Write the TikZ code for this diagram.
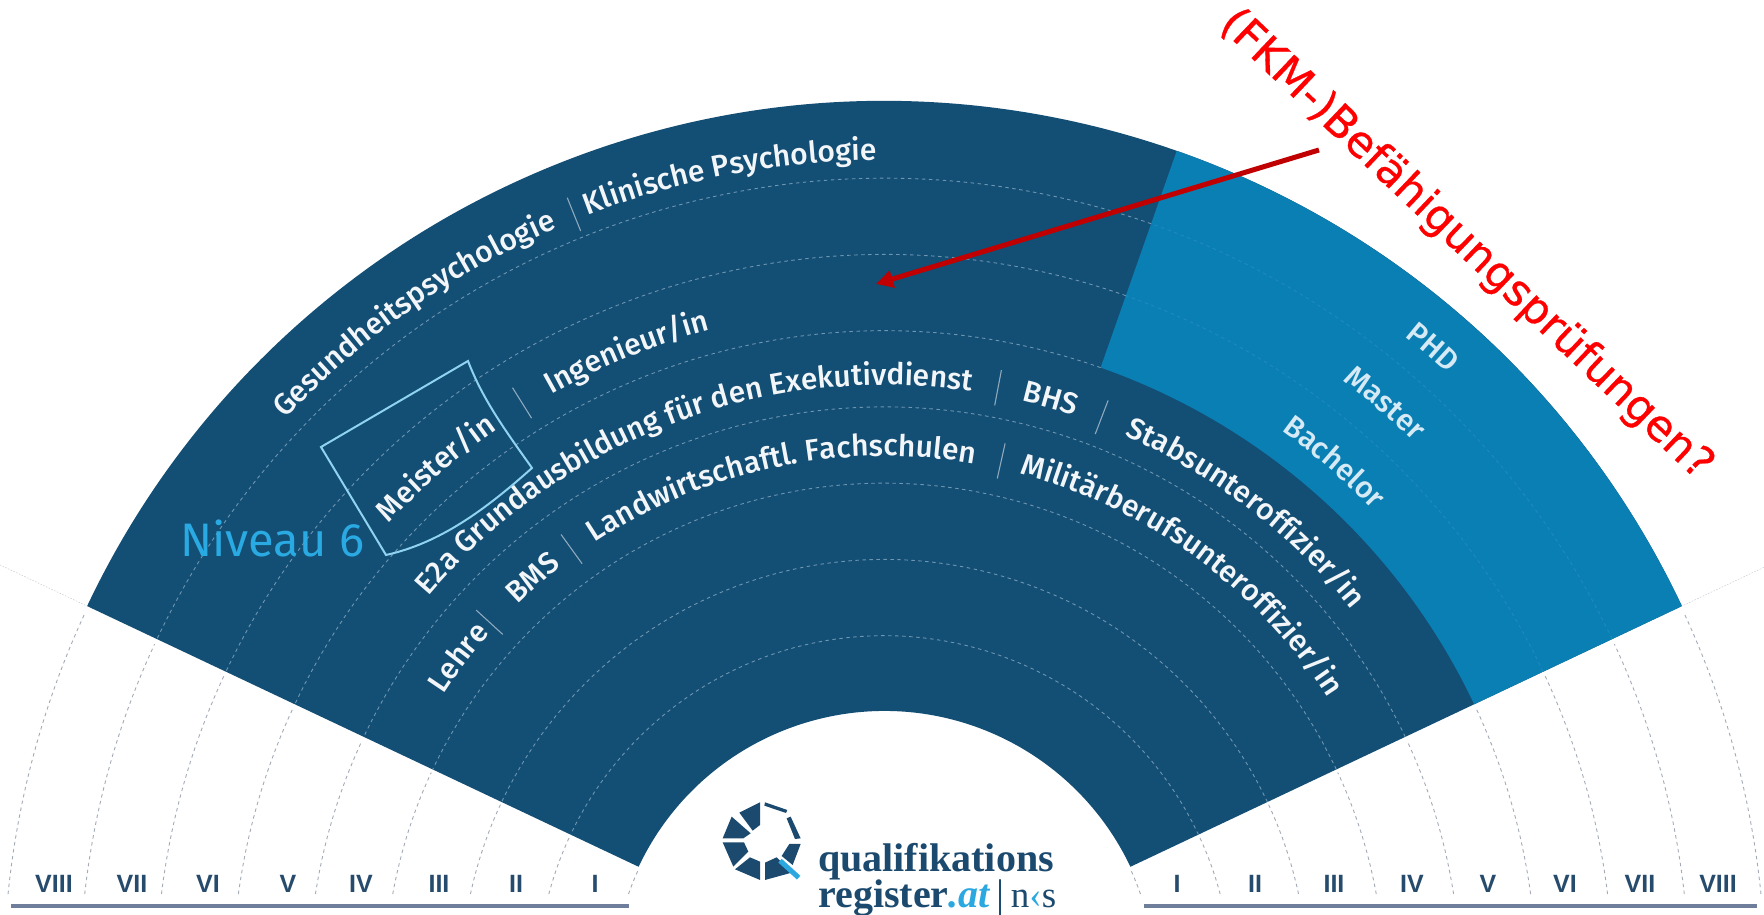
\documentclass[tikz,border=0pt]{standalone}
\usepackage{fontspec}
\usetikzlibrary{calc,decorations.text,arrows.meta}
\newfontfamily\lblfont{Fira Sans Medium}
\newfontfamily\nivfont{Fira Sans}
\newfontfamily\redfont[FakeBold=0.7]{DejaVu Sans}
\newfontfamily\romfont{Liberation Sans}
\newfontfamily\logofont{Liberation Serif}
\definecolor{dark}{HTML}{134E75}
\definecolor{light}{HTML}{0A7FB4}
\definecolor{dashin}{HTML}{6F96B0}
\definecolor{dashlt}{HTML}{1F8ABD}
\definecolor{dashout}{HTML}{A4ABB6}
\definecolor{rom}{HTML}{274B6C}
\definecolor{rulec}{HTML}{6F7F9B}
\definecolor{sepc}{HTML}{8FA9BC}
\definecolor{boxc}{HTML}{8FD3F0}
\definecolor{niv}{HTML}{2AAAE2}
\definecolor{arr}{HTML}{C00000}
\definecolor{logod}{HTML}{1C4A6E}
\definecolor{logol}{HTML}{2CA8E0}
\definecolor{lbltxt}{HTML}{F2F6F9}
\definecolor{lbllt}{HTML}{D5EAF5}
\def\lblf{\lblfont\fontsize{30}{30}\selectfont\color{lbltxt}}
\def\lblg{\lblfont\fontsize{30}{30}\selectfont\color{lbllt}}
\newcommand{\arctext}[4]{\path[decorate,decoration={text along path,text align=center,text={|\lblf|#4}}] ($(C)+(#2:#1)$) arc[start angle=#2,end angle=#3,radius=#1];}
\newcommand{\arctextl}[4]{\path[decorate,decoration={text along path,text align=center,text={|\lblg|#4}}] ($(C)+(#2:#1)$) arc[start angle=#2,end angle=#3,radius=#1];}
\newcommand{\sepline}[2]{\draw[sepc,line width=1.1pt] ($(C)+(#2:#1-18)$) -- ($(C)+(#2:#1+18)$);}
\begin{document}
\begin{tikzpicture}[x=1pt,y=1pt,
  dashring/.style={line width=0.9pt,dash pattern=on 3.5pt off 3.5pt},
  romlab/.style={rom,inner sep=0pt,anchor=base,font=\romfont\bfseries\fontsize{25}{25}\selectfont}]
\useasboundingbox (0,0) rectangle (1764,915);
\fill[white] (0,0) rectangle (1764,915);
\coordinate (C) at (884.5,-68);
\def\Ro{271}\def\St{76.25}\def\Ea{25.3}\def\Eb{154.7}\def\Ec{70.65}
% fan
\fill[dark] ($(C)+(\Ea:882)$) arc[start angle=\Ea,end angle=\Eb,radius=882] -- ($(C)+(\Eb:272)$) arc[start angle=\Eb,end angle=\Ea,radius=272] -- cycle;
\fill[light] ($(C)+(\Ea:882)$) arc[start angle=\Ea,end angle=\Ec,radius=882] -- ($(C)+(\Ec:652.25)$) arc[start angle=\Ec,end angle=\Ea,radius=652.25] -- cycle;
% rings inside fan
\foreach \k in {1,2,3,4}{
  \pgfmathsetmacro\R{\Ro+\St*\k}
  \draw[dashin,dashring] ($(C)+(\Ea:\R)$) arc[start angle=\Ea,end angle=\Eb,radius=\R];
}
\foreach \k in {5,6,7}{
  \pgfmathsetmacro\R{\Ro+\St*\k}
  \draw[dashin,dashring] ($(C)+(\Ec:\R)$) arc[start angle=\Ec,end angle=\Eb,radius=\R];
}
\foreach \k in {6,7}{
  \pgfmathsetmacro\R{\Ro+\St*\k}
  \draw[dashlt,dashring] ($(C)+(\Ea:\R)$) arc[start angle=\Ea,end angle=\Ec,radius=\R];
}
% rings outside fan
\foreach \k in {0,...,8}{
  \pgfmathsetmacro\R{\Ro+\St*\k}
  \pgfmathsetmacro\Aa{asin(89/\R)}
  \pgfmathsetmacro\Ab{180-\Aa}
  \draw[dashout,dashring] ($(C)+(\Ab:\R)$) arc[start angle=\Ab,end angle=\Eb+0.4,radius=\R];
  \draw[dashout,dashring] ($(C)+(\Aa:\R)$) arc[start angle=\Aa,end angle=\Ea-0.4,radius=\R];
}
% faint extensions of the edges
\draw[dashout!60,line width=0.5pt,dash pattern=on 1.5pt off 1.5pt] ($(C)+(\Eb:881)$) -- ($(C)+(\Eb:985)$);
\draw[dashout!60,line width=0.5pt,dash pattern=on 1.5pt off 1.5pt] ($(C)+(\Ea:881)$) -- ($(C)+(\Ea:985)$);
% labels
\arctext{823}{137.0}{113.2}{Gesundheitspsychologie}
\sepline{829}{112}
\arctext{823}{111.1}{90.6}{Klinische Psychologie}
\arctext{676}{137.4}{124.7}{Meister/in}
\sepline{684}{122}
\arctext{676}{119.6}{104.8}{Ingenieur/in}
\arctext{598}{140.0}{81.3}{E2a Grundausbildung für den Exekutivdienst}
\sepline{606}{79.2}
\arctext{598}{76.7}{71.5}{BHS}
\sepline{606}{69}
\arctext{598}{66.0}{39.0}{Stabsunteroffizier/in}
\arctext{527}{146.8}{138.5}{Lehre}
\sepline{535}{137.6}
\arctext{527}{134.2}{127.7}{BMS}
\sepline{535}{125.8}
\arctext{527}{123.6}{79.9}{Landwirtschaftl. Fachschulen}
\sepline{535}{77.4}
\arctext{527}{75.0}{32.9}{Militärberufsunteroffizier/in}
\arctextl{830}{55}{43.4}{PHD}
\arctextl{757}{55}{43.4}{Master}
\arctextl{680}{55}{43.4}{Bachelor}
% Meister box
\draw[boxc,line width=2pt,line join=miter] (321,468) -- (468,554) .. controls (483,515) and (505,485) .. (532,447) .. controls (485,405) and (440,372) .. (386,360) -- cycle;
\node[niv,inner sep=0pt,anchor=base west,font=\nivfont\fontsize{47}{47}\selectfont] (niveau) at (180,358) {Niveau 6};
% bottom rules
\draw[rulec,line width=3.5pt] (11,9) -- (629,9);
\draw[rulec,line width=3.5pt] (1144,9) -- (1757,9);
% roman numerals
\foreach \x/\t/\n in {54/VIII/a,132/VII/b,208/VI/c,288/V/d,361/IV/e,439/III/f,516/II/g,595/I/h,1177/I/i,1255/II/j,1334/III/k,1412/IV/l,1488/V/m,1565/VI/n,1640/VII/o,1718/VIII/p}{
  \node[romlab] (rom\n) at (\x,22) {\t};
}
% logo
\begin{scope}[shift={(680,145)},x=0.3333pt,y=-0.3333pt]
\fill[logod] (178,128) -- (240,97) -- (240,165) -- (218,182) -- cycle;
\fill[logod] (155,140) -- (212,190) -- (190,205) -- (128,205) -- cycle;
\fill[logod] (128,217) -- (192,217) -- (205,245) -- (160,290) -- cycle;
\fill[logod] (165,298) -- (210,262) -- (240,275) -- (240,330) -- cycle;
\fill[logod] (255,330) -- (255,278) -- (290,262) -- (335,308) -- cycle;
\fill[logod] (305,258) -- (328,222) -- (362,222) -- (338,285) -- cycle;
\fill[logod] (320,145) -- (332,140) -- (362,205) -- (345,207) -- cycle;
\fill[logod] (255,97) -- (322,120) -- (318,129) -- (253,107) -- cycle;
\draw[logol,line width=5pt] (300,272) -- (356,323);
\end{scope}
\node[logod,inner sep=0pt,anchor=base west,font=\logofont\bfseries\fontsize{40}{40}\selectfont] (logoa) at (818,43) {qualifikations};
\node[logod,inner sep=0pt,anchor=base west,font=\logofont\bfseries\fontsize{40}{40}\selectfont] (logob) at (818,7) {register\textcolor{logol}{\itshape .at}\,{\mdseries |}\,{\mdseries\fontsize{37}{37}\selectfont n\textcolor{logol}{‹}s}};
% arrow
\coordinate (arrS) at (1319,765);
\coordinate (arrE) at (876,631);
\draw[arr,line width=5pt,-{Triangle[length=17pt,width=17pt]}] (arrS) -- (arrE);
% red label
\node[red,inner sep=0pt,rotate=-43.5,font=\redfont\fontsize{43.5}{43.5}\selectfont] (fkm) at (1466,670) {(FKM-)Befähigungsprüfungen?};
\end{tikzpicture}
\end{document}
